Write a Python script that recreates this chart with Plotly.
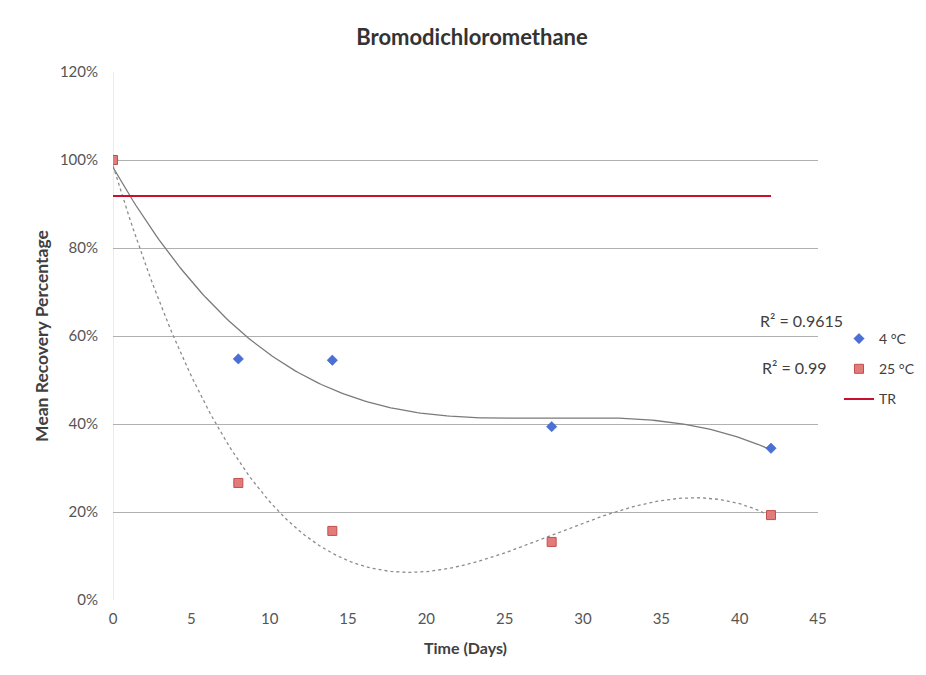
import numpy as np
import plotly.graph_objects as go

# data (percent)
days = [0, 8, 14, 28, 42]
rec_4c = [100, 54.8, 54.5, 39.4, 34.5]
rec_25c = [100, 26.6, 15.7, 13.2, 19.3]
tr_days = [0, 42]
tr_level = [91.8, 91.8]
r2_labels = ["R² = 0.9615", "R² = 0.99"]

FONT = "Lato, 'Open Sans', sans-serif"
TXT = "#404040"
BLUE = "#4a6fd6"
PINK = "#e47b7b"
RED = "#c8102e"

# page body has an 8px margin, so the figure sits at (8, 8) in the window
W, H = 918, 667
L, R, T, B = 105, 108, 64, 75
PW, PH = W - L - R, H - T - B


def poly_trend(x, y, deg=3):
    """Excel-style polynomial trendline over the data range."""
    c = np.polyfit(x, y, deg)
    xs = np.linspace(min(x), max(x), 200)
    return xs, np.polyval(c, xs)


def paper(px_, py_):
    """window pixel -> paper coords"""
    return (px_ - 8 - L) / PW, (H - B - (py_ - 8)) / PH


fig = go.Figure()

xs, ys = poly_trend(days, rec_4c)
fig.add_trace(go.Scatter(x=xs, y=ys, mode="lines", showlegend=False,
                         line=dict(color="#7a7a7a", width=1.3), hoverinfo="skip"))
xs, ys = poly_trend(days, rec_25c)
fig.add_trace(go.Scatter(x=xs, y=ys, mode="lines", showlegend=False,
                         line=dict(color="#8c8c8c", width=1.3, dash="dot"), hoverinfo="skip"))

fig.add_trace(go.Scatter(x=days, y=rec_4c, mode="markers", name="4 °C", legendgroup="a",
                         marker=dict(symbol="diamond", size=8, color=BLUE,
                                     line=dict(color="#3a5bc0", width=0.5))))
fig.add_trace(go.Scatter(x=days, y=rec_25c, mode="markers", name="25 °C", legendgroup="b",
                         marker=dict(symbol="square", size=9, color=PINK,
                                     line=dict(color="#c0504d", width=1))))
fig.add_trace(go.Scatter(x=tr_days, y=tr_level, mode="lines", name="TR", legendgroup="c",
                         line=dict(color=RED, width=2)))

for (px_, py_), txt in zip([(845, 320), (828, 367)], r2_labels):
    ax, ay = paper(px_, py_)
    fig.add_annotation(x=ax, y=ay, xref="paper", yref="paper", text=txt,
                       xanchor="right", yanchor="middle", showarrow=False,
                       font=dict(family=FONT, size=16, color=TXT))

tx, _ = paper(472, 37)
fig.update_layout(
    width=W, height=H,
    margin=dict(l=L, r=R, t=T, b=B),
    paper_bgcolor="white", plot_bgcolor="white",
    font=dict(family=FONT, size=14, color=TXT),
    title=dict(text="<b>Bromodichloromethane</b>", x=tx, xref="paper", xanchor="center",
               y=1 - (37 - 8) / H, yanchor="middle", font=dict(size=22, color="#333333")),
    xaxis=dict(range=[0, 45], dtick=5, showgrid=False, zeroline=False,
               showline=False, ticks="", ticklabelstandoff=8,
               tickfont=dict(size=15, color="#555555"),
               title=dict(text="<b>Time (Days)</b>", font=dict(size=16, color=TXT),
                          standoff=16)),
    yaxis=dict(range=[0, 120], dtick=20, ticksuffix="%", showgrid=True,
               gridcolor="#b0b0b0", gridwidth=1, zeroline=False, showline=False,
               ticklabelstandoff=14, tickfont=dict(size=15, color="#555555"),
               title=dict(text="<b>Mean Recovery Percentage</b>",
                          font=dict(size=17.5, color=TXT), standoff=6)),
    legend=dict(xref="container", yref="container",
                x=(839 - 8) / W, y=1 - (323 - 8) / H, xanchor="left", yanchor="top",
                bgcolor="rgba(0,0,0,0)", font=dict(size=14, color=TXT),
                itemwidth=30, tracegroupgap=9),
)
fig.add_shape(type="line", xref="x", yref="paper", x0=0, x1=0, y0=0, y1=1,
              line=dict(color="#d9d9d9", width=1), layer="below")

fig.write_html("out.html")
